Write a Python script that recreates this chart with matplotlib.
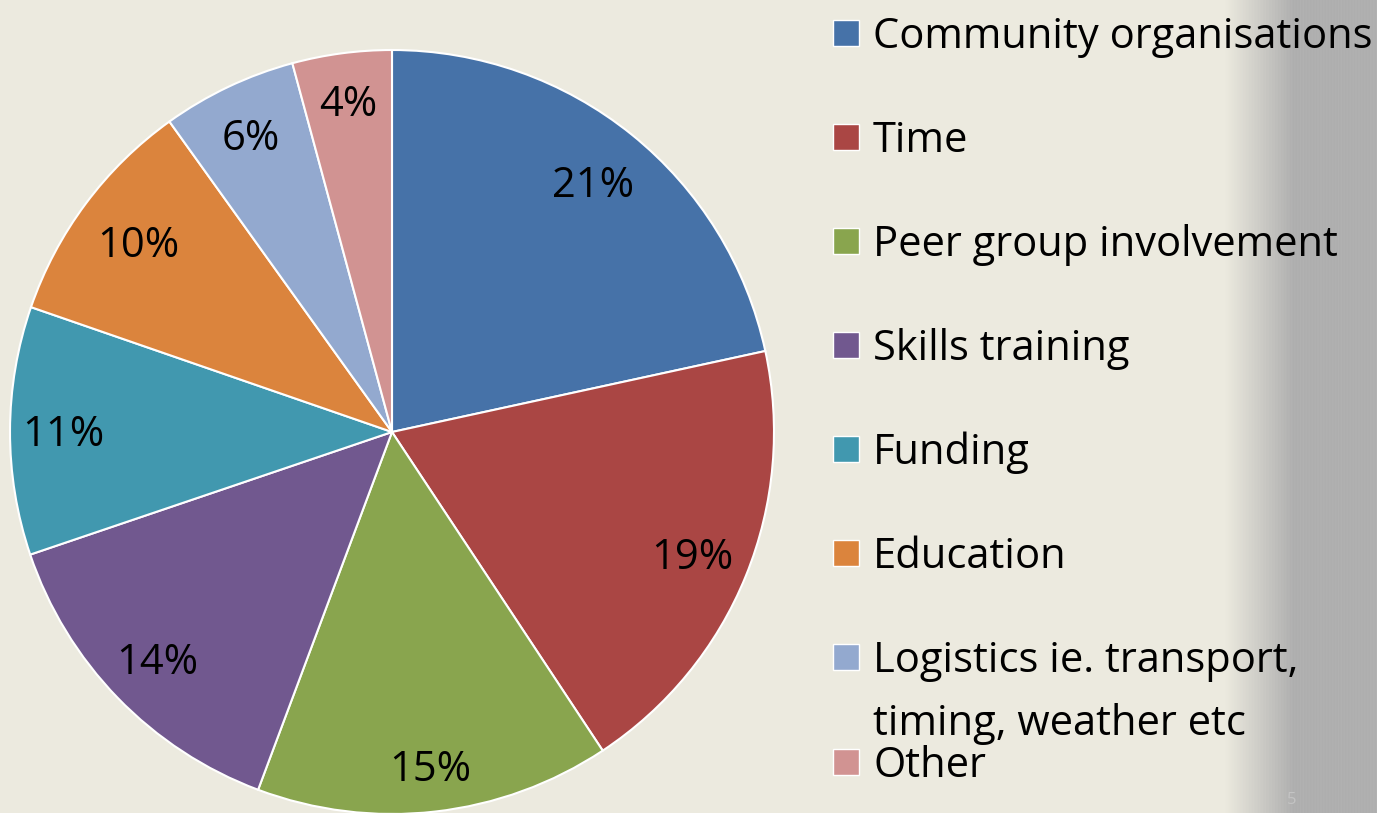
import numpy as np
import matplotlib.pyplot as plt
from matplotlib.patches import Rectangle

# data
categories = ['Community organisations', 'Time', 'Peer group involvement',
              'Skills training', 'Funding', 'Education',
              'Logistics ie. transport,\ntiming, weather etc', 'Other']
shares = [21.6, 19.1, 15.0, 14.1, 10.5, 9.8, 5.7, 4.2]
pct_labels = ['21%', '19%', '15%', '14%', '11%', '10%', '6%', '4%']
colors = ['#4672A8', '#AA4644', '#89A54E', '#71588F',
          '#4198AF', '#DB843D', '#93A9CF', '#D19392']

# radial position of each percentage label (fraction of radius)
label_r = [0.84, 0.85, 0.88, 0.855, 0.86, 0.83, 0.86, 0.875]

bg = '#ECEADF'
W, H = 1377, 813
fs = 30
plt.rcParams['font.family'] = ['Open Sans', 'DejaVu Sans']

fig = plt.figure(figsize=(W / 100, H / 100), dpi=100, facecolor=bg)

# grey gradient strip on the right edge
gax = fig.add_axes([1225 / W, 0, (W - 1225) / W, 1])
gax.set_axis_off()
x = np.linspace(0, 1, 300)
ramp = np.clip(x / 0.45, 0, 1)
c0 = np.array([0xEC, 0xEA, 0xDF]) / 255
c1 = np.array([0xB2, 0xB2, 0xB2]) / 255
row = c0[None, :] * (1 - ramp[:, None]) + c1[None, :] * ramp[:, None]
stripes = np.where(np.arange(300) % 3 == 0, 0.96, 1.0)[:, None]
row = np.clip(row * (1 - (1 - stripes) * ramp[:, None]), 0, 1)
gax.imshow(row[None, :, :], aspect='auto', extent=[0, 1, 0, 1])

# pie
cx, cy, r = 392, 432, 382
ax = fig.add_axes([(cx - r) / W, (H - cy - r) / H, 2 * r / W, 2 * r / H])
ax.set_facecolor('none')
wedges, _ = ax.pie(shares, colors=colors, startangle=90, counterclock=False,
                   wedgeprops=dict(edgecolor='white', linewidth=1.5))
ax.set_xlim(-1, 1)
ax.set_ylim(-1, 1)
ax.set_aspect('equal')
ax.set_axis_off()

for w, lab, lr in zip(wedges, pct_labels, label_r):
    ang = np.deg2rad((w.theta1 + w.theta2) / 2)
    ax.annotate(lab, (lr * np.cos(ang), lr * np.sin(ang)),
                xytext=(0, -10.7), textcoords='offset points',
                ha='center', va='baseline', fontsize=fs, color='black')

# legend
legend_y = [33, 137, 241, 345, 449, 553, 657, 762]
for name, col, yy in zip(categories, colors, legend_y):
    fig.patches.append(Rectangle((833 / W, 1 - (yy + 13) / H), 26 / W, 26 / H,
                                 transform=fig.transFigure, facecolor=col,
                                 edgecolor='white', linewidth=1))
    lines = name.split('\n')
    for k, line in enumerate(lines):
        fig.text(873 / W, 1 - (yy + 15 + 63 * k) / H, line, ha='left',
                 va='baseline', fontsize=fs, color='black')

fig.text(1292 / W, 1 - 800 / H, '5', ha='center', va='center',
         fontsize=12, color='#C4C4C4')

fig.savefig('out.png', dpi=100, facecolor=bg)
